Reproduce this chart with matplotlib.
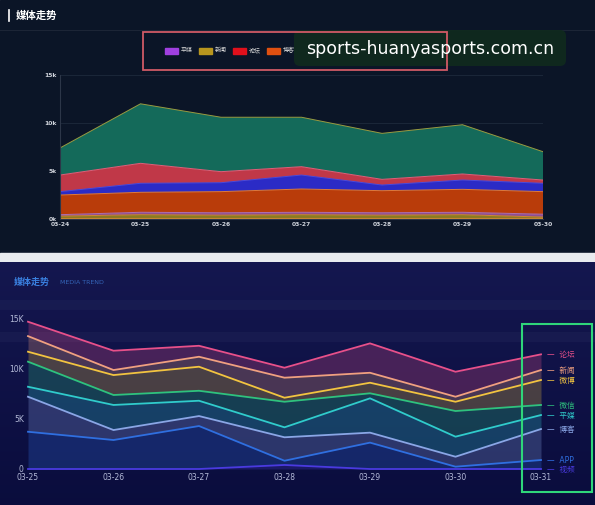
import numpy as np
import matplotlib.pyplot as plt
from matplotlib.patches import Rectangle, FancyBboxPatch

plt.rcParams['font.family'] = ['DejaVu Sans', 'Noto Sans CJK SC']

W, H = 595, 505

# upper dashboard: stacked areas (values per series, bottom to top)
top_dates = ["03-24", "03-25", "03-26", "03-27", "03-28", "03-29", "03-30"]
top_names = ["新闻", "平媒", "博客", "微博", "论坛", "微信"]
top_xinwen = [300, 450, 400, 450, 400, 450, 200]
top_pingmei = [150, 250, 250, 250, 250, 250, 300]
top_boke = [2050, 2080, 2200, 2425, 2300, 2390, 2350]
top_weibo = [350, 940, 930, 1455, 590, 970, 870]
top_luntan = [1730, 2080, 1150, 870, 590, 630, 340]
top_weixin = [2820, 6200, 5670, 5150, 4790, 5130, 2950]
top_colors = ["#8a7a22", "#8e4f92", "#b93c0a", "#2b2bc6", "#c03848", "#146a5a"]
top_edges = ["#d08a30", "#b070b0", "#e07a3a", "#4a4ae0", "#e0607a", "#9a9a40"]
# only these legend entries are visible, the rest sit under the watermark
legend_names = ["平媒", "新闻", "论坛", "博客"]
legend_colors = ["#a040e0", "#b8961e", "#e0101c", "#e05010"]

# lower dashboard: lines with bands
bot_dates = ["03-25", "03-26", "03-27", "03-28", "03-29", "03-30", "03-31"]
bot_names = ["论坛", "新闻", "微博", "微信", "平媒", "博客", "APP", "视频"]
bot_luntan = [14630, 11750, 12240, 10060, 12480, 9660, 11390]
bot_xinwen = [13200, 9830, 11150, 9070, 9560, 7180, 9830]
bot_weibo = [11650, 9330, 10160, 7080, 8570, 6680, 8840]
bot_weixin = [10660, 7350, 7770, 6680, 7520, 5760, 6360]
bot_pingmei = [8170, 6360, 6780, 4140, 7020, 3210, 5360]
bot_boke = [7180, 3870, 5260, 3150, 3610, 1220, 3970]
bot_app = [3700, 2880, 4270, 820, 2620, 230, 890]
bot_shipin = [0, 0, 0, 400, 0, 0, 0]
bot_colors = ["#e8508a", "#f0a080", "#f2c440", "#2ec27e", "#30cccc", "#8aa6e6", "#2f6fe0", "#4a3ae0"]


def rect(px0, py0, px1, py1):
    return [px0 / W, 1 - py1 / H, (px1 - px0) / W, (py1 - py0) / H]


fig = plt.figure(figsize=(W / 100, H / 100), dpi=100)

bg = fig.add_axes([0, 0, 1, 1], zorder=0)
bg.set_xlim(0, W)
bg.set_ylim(H, 0)
bg.axis("off")
bg.add_patch(Rectangle((0, 0), W, 253, color="#0b1527"))
bg.add_patch(Rectangle((0, 253), W, 9, color="#e9ebef"))
grad = np.linspace(0, 1, 100)[:, None] * np.ones((1, 10))
top_c = np.array([0.08, 0.09, 0.31])
bot_c = np.array([0.04, 0.05, 0.24])
img = top_c[None, None, :] * (1 - grad[..., None]) + bot_c[None, None, :] * grad[..., None]
bg.imshow(img, extent=[0, W, 505, 262], aspect="auto", zorder=1)
for yb, a in [(300, 0.05), (332, 0.06)]:
    bg.add_patch(Rectangle((0, yb), W, 10, color="#8090c0", alpha=a, lw=0, zorder=2))
bg.plot([0, W], [30, 30], color="#1c2536", lw=0.8)
bg.plot([9, 9], [10, 21], color="white", lw=1.2)
bg.text(16, 15.5, "媒体走势", color="white", fontsize=7.5, fontweight="bold", va="center")
bg.text(14, 282, "媒体走势", color="#3a80e0", fontsize=6.5, fontweight="bold", va="center", zorder=3)
bg.text(60, 282, "MEDIA TREND", color="#3464b8", fontsize=4.5, va="center", zorder=3)

# upper stacked area chart
ax1 = fig.add_axes(rect(60, 75, 543, 219), zorder=1)
ax1.set_facecolor("none")
x1 = np.arange(len(top_dates))
stack = [top_xinwen, top_pingmei, top_boke, top_weibo, top_luntan, top_weixin]
ax1.stackplot(x1, stack, colors=top_colors, lw=0)
cum = np.cumsum(np.array(stack), axis=0)
ax1.plot(x1, np.zeros(len(x1)) + 60, color=top_edges[0], lw=0.8)
for row, ec in zip(cum, top_edges):
    ax1.plot(x1, row, color=ec, lw=0.7)
ax1.set_xlim(0, len(x1) - 1)
ax1.set_ylim(0, 15000)
ax1.set_yticks([0, 5000, 10000, 15000])
ax1.set_yticklabels(["0k", "5k", "10k", "15k"])
ax1.set_xticks(x1)
ax1.set_xticklabels(top_dates)
ax1.tick_params(length=0, colors="#d0d4dc", labelsize=4.3, pad=2.5)
for lab in ax1.get_xticklabels() + ax1.get_yticklabels():
    lab.set_fontweight("bold")
ax1.grid(axis="y", color="#1e2a3c", lw=0.6)
ax1.set_axisbelow(True)
for s in ["top", "right"]:
    ax1.spines[s].set_visible(False)
ax1.spines["left"].set_color("#2c3648")
ax1.spines["bottom"].set_color("#2c3648")

# lower line chart
ax2 = fig.add_axes(rect(28, 318, 541, 469), zorder=1)
ax2.set_facecolor("none")
x2 = np.arange(len(bot_dates))
series = [bot_luntan, bot_xinwen, bot_weibo, bot_weixin, bot_pingmei, bot_boke, bot_app, bot_shipin]
for i, (vals, c) in enumerate(zip(series, bot_colors)):
    lower = series[i + 1] if i + 1 < len(series) else np.zeros(len(x2))
    ax2.fill_between(x2, lower, vals, color=c, alpha=0.26, lw=0)
    ax2.plot(x2, vals, color=c, lw=1.3, clip_on=False)
ax2.set_xlim(0, len(x2) - 1)
ax2.set_ylim(0, 15000)
ax2.set_yticks([0, 5000, 10000, 15000])
ax2.set_yticklabels(["0", "5K", "10K", "15K"])
ax2.set_xticks(x2)
ax2.set_xticklabels(bot_dates)
ax2.tick_params(length=0, colors="#b4bad8", labelsize=5.5, pad=3)
for s in ax2.spines.values():
    s.set_visible(False)
for vals, name, c in zip(series, bot_names, bot_colors):
    ax2.annotate("—  " + name, (x2[-1], vals[-1]), xytext=(4, 0), textcoords="offset points",
                 color=c, fontsize=5.5, va="center", annotation_clip=False)

# overlay: legend box, watermark, highlight box
ov = fig.add_axes([0, 0, 1, 1], zorder=3)
ov.set_xlim(0, W)
ov.set_ylim(H, 0)
ov.axis("off")
for i, (name, c) in enumerate(zip(legend_names, legend_colors)):
    px = 165 + 34 * i
    ov.add_patch(Rectangle((px, 47.5), 13, 6, color=c))
    ov.text(px + 16, 50.5, name, color="#d8d8d8", fontsize=4.3, va="center")
ov.add_patch(FancyBboxPatch((294, 30), 272, 36, boxstyle="round,pad=0,rounding_size=6",
                            color="#102a1e", alpha=0.93, lw=0))
ov.add_patch(Rectangle((143, 32), 304, 38, fill=False, ec="#d05a66", lw=1.3))
ov.text(430, 49, "sports-huanyasports.com.cn", color="white", fontsize=12.5,
        ha="center", va="center")
ov.add_patch(Rectangle((522, 324), 70, 168, fill=False, ec="#2fd67a", lw=1.5))

fig.savefig("out.png", dpi=100)
